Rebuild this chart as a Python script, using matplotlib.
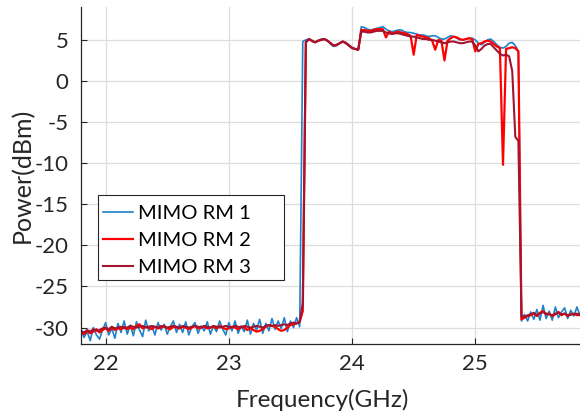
import numpy as np
import matplotlib
matplotlib.use("Agg")
import matplotlib.pyplot as plt
from matplotlib.patches import Rectangle

plt.rcParams['font.family'] = ['Lato', 'DejaVu Sans']
plt.rcParams['axes.unicode_minus'] = False

# frequency grid (GHz), 0.025 GHz step from 21.8 to 25.85
freq = np.round(np.arange(21.8, 25.851, 0.025), 3)

rm1 = [
    -30.3, -31.2, -30.5, -31.6, -30.0, -30.9, -31.4, -30.3,   # 21.8
    -29.4, -30.9, -30.1, -31.3, -29.5, -30.6, -29.2, -30.8,   # 22.0
    -29.7, -31.0, -29.3, -30.3, -31.1, -29.1, -30.4, -29.8,   # 22.2
    -30.9, -29.4, -30.3, -29.6, -30.8, -29.9, -29.2, -30.6,   # 22.4
    -29.6, -30.6, -29.3, -30.9, -29.9, -29.4, -30.7, -29.8,   # 22.6
    -30.4, -29.3, -30.8, -29.8, -30.5, -29.2, -30.2, -30.9,   # 22.8
    -29.4, -30.4, -29.2, -30.7, -29.8, -30.5, -29.1, -30.8,   # 23.0
    -29.5, -30.3, -29.0, -30.7, -29.5, -30.4, -28.9, -30.2,   # 23.2
    -29.2, -30.1, -28.8, -30.5, -29.2, -30.0, -28.8, -29.9,   # 23.4
    4.8, 5.0, 5.1, 4.8, 4.7, 4.9, 5.1, 5.1,                   # 23.6
    4.9, 4.5, 4.2, 4.3, 4.6, 4.8, 4.7, 4.4,                   # 23.8
    4.1, 3.9, 3.8, 6.6, 6.5, 6.3, 6.2, 6.3,                   # 24.0
    6.4, 6.5, 6.6, 6.3, 6.1, 6.0, 6.1, 6.2,                   # 24.2
    6.2, 6.0, 5.9, 5.9, 5.8, 5.7, 5.6, 5.6,                   # 24.4
    5.5, 5.4, 5.5, 5.5, 5.3, 5.1, 5.1, 5.3,                   # 24.6
    5.5, 5.4, 5.2, 5.0, 5.0, 5.1, 5.2, 5.2,                   # 24.8
    5.0, 4.6, 4.4, 4.7, 5.0, 5.1, 4.8, 4.4,                   # 25.0
    4.1, 4.0, 4.2, 4.6, 4.7, 4.3, 3.6, -29.2,                 # 25.2
    -28.4, -29.2, -28.1, -29.0, -27.8, -29.1, -27.3, -28.9,   # 25.4
    -28.0, -29.1, -27.5, -28.8, -28.1, -27.6, -28.9, -27.9,   # 25.6
    -28.6, -27.5, -28.5,                                      # 25.8
]

rm2 = [
    -30.6, -30.8, -30.4, -30.7, -30.5, -30.2, -30.6, -30.3,
    -30.1, -30.4, -30.0, -30.3, -30.1, -30.2, -29.9, -30.2,
    -30.0, -30.2, -29.8, -29.6, -30.1, -29.9, -30.0, -30.2,
    -29.9, -30.1, -30.0, -29.8, -30.1, -30.2, -29.9, -30.0,
    -30.1, -29.9, -30.0, -30.2, -30.0, -29.8, -30.1, -30.0,
    -29.9, -30.1, -30.0, -29.9, -30.1, -29.8, -30.0, -30.2,
    -30.1, -29.9, -30.0, -30.2, -29.9, -30.0, -30.3, -30.1,
    -30.3, -30.5, -30.4, -30.2, -29.9, -29.7, -29.8, -29.9,
    -30.2, -30.4, -30.3, -30.0, -29.7, -29.6, -29.5, -29.3,
    -28.0, 4.7, 5.1, 4.9, 4.7, 4.9, 5.0, 5.1,
    4.9, 4.6, 4.3, 4.4, 4.6, 4.8, 4.6, 4.3,
    4.0, 3.9, 3.8, 6.2, 6.2, 6.1, 6.1, 6.2,
    6.3, 6.3, 6.3, 5.3, 6.0, 5.8, 5.9, 6.0,
    5.9, 5.8, 5.7, 5.5, 3.2, 5.6, 5.5, 5.4,
    5.3, 5.2, 4.9, 3.8, 5.0, 4.9, 2.5, 4.9,
    5.2, 5.4, 5.3, 5.1, 5.0, 5.1, 5.2, 5.1,
    3.6, 4.5, 4.6, 4.8, 4.9, 4.8, 4.5, 4.2,
    4.0, -10.2, 3.9, 4.0, 4.1, 4.0, 3.6, -29.0,
    -28.8, -28.6, -28.5, -28.3, -28.6, -28.2, -28.0, -28.4,
    -28.3, -28.6, -28.4, -28.1, -28.5, -28.3, -28.6, -28.4,
    -28.3, -28.5, -28.4,
]

rm3 = [
    -30.4, -30.6, -30.3, -30.5, -30.2, -30.4, -30.3, -30.1,
    -30.0, -30.2, -29.9, -30.1, -30.0, -29.9, -30.1, -30.0,
    -29.8, -29.9, -30.0, -29.9, -29.8, -30.0, -29.9, -29.8,
    -29.9, -30.0, -29.8, -29.9, -30.0, -29.9, -29.8, -29.9,
    -30.0, -29.8, -29.9, -30.0, -29.9, -29.8, -29.9, -30.0,
    -29.8, -29.9, -30.0, -29.8, -29.9, -30.0, -29.9, -29.8,
    -29.9, -30.0, -29.8, -29.9, -30.0, -29.8, -29.9, -30.0,
    -29.9, -29.8, -29.9, -30.0, -29.8, -29.7, -29.8, -29.7,
    -29.8, -29.7, -29.6, -29.7, -29.5, -29.4, -29.5, -29.3,
    -27.0, 4.7, 5.1, 4.9, 4.7, 4.9, 5.0, 5.1,
    4.9, 4.6, 4.3, 4.4, 4.6, 4.8, 4.6, 4.3,
    4.0, 3.9, 3.8, 6.0, 6.0, 5.9, 5.9, 6.0,
    6.1, 6.1, 6.1, 5.9, 5.8, 5.7, 5.8, 5.8,
    5.7, 5.6, 5.5, 5.4, 5.4, 5.3, 5.2, 5.1,
    5.1, 5.0, 5.0, 4.9, 4.8, 4.7, 4.6, 4.7,
    4.8, 4.8, 4.7, 4.6, 4.6, 4.7, 4.8, 4.8,
    4.3, 3.6, 3.9, 4.3, 4.5, 4.5, 4.1, 3.7,
    3.3, 3.1, 3.2, 3.0, 1.2, -6.8, -7.3, -28.6,
    -28.7, -28.5, -28.4, -28.2, -28.5, -28.3, -28.1, -28.3,
    -28.4, -28.5, -28.3, -28.2, -28.4, -28.3, -28.5, -28.4,
    -28.4, -28.3, -28.5,
]

labels = ["MIMO RM 1", "MIMO RM 2", "MIMO RM 3"]
colors = ["#1f82c8", "#ff0000", "#a2142f"]
xticks = [22, 23, 24, 25]
yticks = [-30, -25, -20, -15, -10, -5, 0, 5]

W, H = 580, 413
fig = plt.figure(figsize=(5.8, 4.13), dpi=100)
ax = fig.add_axes([81/W, 1-344/H, 1-81/W, (344-7)/H])

for vals, lab, col, lw in zip([rm1, rm2, rm3], labels, colors, [1.2, 1.6, 1.5]):
    ax.plot(freq, vals, color=col, lw=lw, label=lab)

ax.set_xlim(21.8, 25.85)
ax.set_ylim(-32, 9)
ax.set_xticks(xticks)
ax.set_yticks(yticks)
ax.grid(True, color="#dedede", lw=0.9)
ax.set_axisbelow(True)
for s in ["top", "right"]:
    ax.spines[s].set_visible(False)
for s in ["left", "bottom"]:
    ax.spines[s].set_color("#262626")
    ax.spines[s].set_linewidth(0.9)
ax.tick_params(direction="in", length=4, width=0.8, colors="#262626", labelsize=16,
               labelcolor="#262626")
ax.tick_params(axis="x", pad=7)
ax.tick_params(axis="y", pad=9)
ax.set_xlabel("Frequency(GHz)", fontsize=17.5, color="#262626")
ax.set_ylabel("Power(dBm)", fontsize=18, color="#262626")
ax.xaxis.set_label_coords((322.5-81)/(W-81), -(407-344)/(344-7), transform=ax.transAxes)
ax.xaxis.label.set_va("baseline")
ax.yaxis.set_label_coords((22.5-81)/(W-81), 0.5, transform=ax.transAxes)
ax.yaxis.label.set_va("center")

frame = Rectangle((98/W, 1-280/H), (284-98)/W, (280-195)/H,
                  transform=fig.transFigure, facecolor="white",
                  edgecolor="#262626", lw=0.8, zorder=4, clip_on=False)
ax.add_patch(frame)
leg = ax.legend(loc="upper left", bbox_to_anchor=(103/W, 1-205/H),
                bbox_transform=fig.transFigure, fontsize=14.5, frameon=False,
                borderaxespad=0, borderpad=0, handlelength=1.5,
                handletextpad=0.25, labelspacing=0.5)
leg.set_zorder(5)

fig.savefig("out.png", dpi=100)
